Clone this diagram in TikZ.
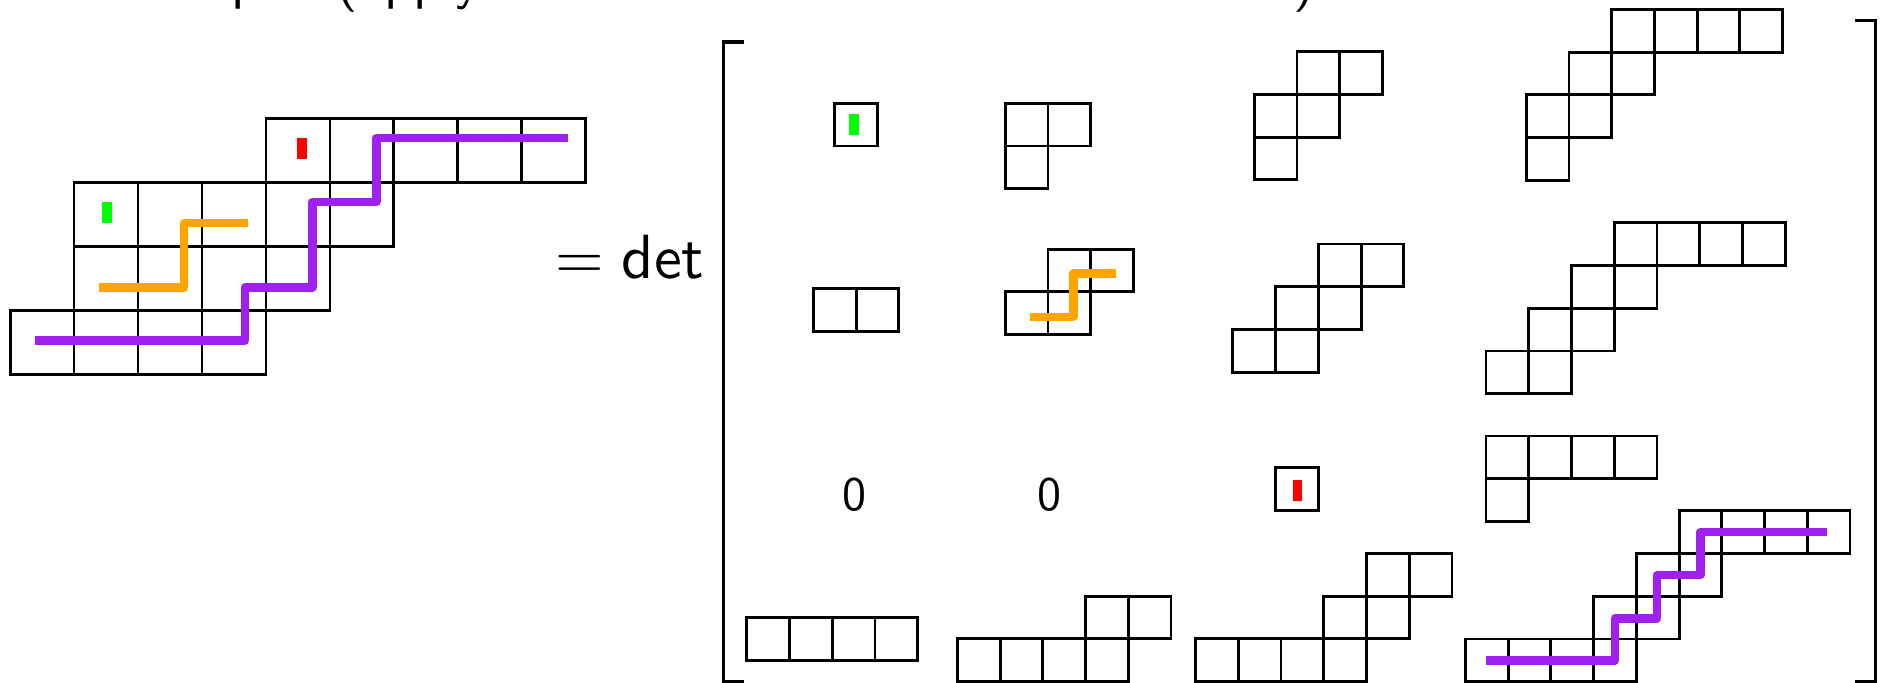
\documentclass[tikz,border=0pt]{standalone}
\usepackage{fontspec}
\newfontfamily\lmsten{lmsans10-regular.otf}
\definecolor{pathorange}{HTML}{FFA500}
\definecolor{pathpurple}{HTML}{A020F0}
\definecolor{markgreen}{HTML}{00FF00}
\definecolor{markred}{HTML}{FF0000}
\tikzset{
  cellbox/.style={draw=black, line width=2.4pt},
  bracketline/.style={draw=black, line width=2.6pt},
  lattpath/.style={line width=7pt, line join=round, line cap=butt},
  bigtext/.style={inner sep=0pt, font=\fontsize{52}{62}\selectfont\lmsten},
  zerotext/.style={inner sep=0pt, font=\fontsize{40}{48}\selectfont\lmsten},
}
% #1 x0, #2 y0, #3 cell size, #4 row index, #5 list of columns
\newcommand{\cellrow}[5]{\foreach \cc in {#5} {\draw[cellbox] ({#1+\cc*#3},{#2+#4*#3}) rectangle ++(#3,#3);}}
% #1 colour, #2 x centre, #3 y centre
\newcommand{\markbar}[3]{\fill[#1] ({#2-4},{#3-8.75}) rectangle ({#2+4},{#3+8.75});}
\begin{document}
\begin{tikzpicture}[x=1pt,y=-1pt]
\useasboundingbox (0,0) rectangle (1568,569);
\clip (0,0) rectangle (1568,569);
\fill[white] (0,0) rectangle (1568,569);

% clipped title
\node[anchor=base west, inner sep=0pt, font=\fontsize{46}{55}\selectfont\lmsten] (title) at (85,-1.2)
  {Examples (apply Lindström–Gessel–Viennot Lemma)};

% ---------- left skew shape ----------
\def\LX{8.4}\def\LY{98.6}\def\LC{53.3}
\cellrow{\LX}{\LY}{\LC}{0}{4,5,6,7,8}
\cellrow{\LX}{\LY}{\LC}{1}{1,2,3,4,5}
\cellrow{\LX}{\LY}{\LC}{2}{1,2,3,4}
\cellrow{\LX}{\LY}{\LC}{3}{0,1,2,3}
\markbar{markgreen}{89}{177}
\markbar{markred}{251.5}{124}
\draw[lattpath, pathorange] (82.6,239.5) -- (153.5,239.5) -- (153.5,186) -- (207,186);
\draw[lattpath, pathpurple] (29,283.6) -- (204.2,283.6) -- (204.2,239.5) -- (260.4,239.5)
  -- (260.4,168.3) -- (313.6,168.3) -- (313.6,115) -- (473.6,115);

% = det
\node[bigtext, anchor=base west] (eq) at (463,232) {=\hspace{0.28em}det};

% brackets
\draw[bracketline] (620,35) -- (603,35) -- (603,567.5) -- (620,567.5);
\draw[bracketline] (1545.5,17) -- (1562.5,17) -- (1562.5,567.5) -- (1545.5,567.5);

% ---------- matrix entries ----------
\def\MC{35.6}
% (1,1)
\cellrow{695.6}{86}{\MC}{0}{0}
\markbar{markgreen}{711.7}{103.8}
% (1,2)
\cellrow{837.5}{86}{\MC}{0}{0,1}
\cellrow{837.5}{86}{\MC}{1}{0}
% (1,3)
\cellrow{1045}{43}{\MC}{0}{1,2}
\cellrow{1045}{43}{\MC}{1}{0,1}
\cellrow{1045}{43}{\MC}{2}{0}
% (1,4)
\cellrow{1271.6}{7.8}{\MC}{0}{2,3,4,5}
\cellrow{1271.6}{7.8}{\MC}{1}{1,2}
\cellrow{1271.6}{7.8}{\MC}{2}{0,1}
\cellrow{1271.6}{7.8}{\MC}{3}{0}
% (2,1)
\cellrow{677.7}{240.7}{\MC}{0}{0,1}
% (2,2)
\cellrow{837.5}{207.6}{\MC}{0}{1,2}
\cellrow{837.5}{207.6}{\MC}{1}{0,1}
\draw[lattpath, pathorange] (858.2,263.9) -- (894.3,263.9) -- (894.3,228) -- (929.7,228);
% (2,3)
\cellrow{1027.2}{203.3}{\MC}{0}{2,3}
\cellrow{1027.2}{203.3}{\MC}{1}{1,2}
\cellrow{1027.2}{203.3}{\MC}{2}{0,1}
% (2,4)
\cellrow{1238.1}{185.6}{\MC}{0}{3,4,5,6}
\cellrow{1238.1}{185.6}{\MC}{1}{2,3}
\cellrow{1238.1}{185.6}{\MC}{2}{1,2}
\cellrow{1238.1}{185.6}{\MC}{3}{0,1}
% (3,1), (3,2)
\node[zerotext] (z31) at (711.7,412) {0};
\node[zerotext] (z32) at (874.7,412) {0};
% (3,3)
\cellrow{1062.6}{389.7}{\MC}{0}{0}
\markbar{markred}{1080.9}{408.3}
% (3,4)
\cellrow{1238.1}{363.3}{\MC}{0}{0,1,2,3}
\cellrow{1238.1}{363.3}{\MC}{1}{0}
% (4,1)
\cellrow{622.2}{514.4}{\MC}{0}{0,1,2,3}
% (4,2)
\cellrow{797.6}{496.7}{\MC}{0}{3,4}
\cellrow{797.6}{496.7}{\MC}{1}{0,1,2,3}
% (4,3)
\cellrow{996.1}{461.1}{\MC}{0}{4,5}
\cellrow{996.1}{461.1}{\MC}{1}{3,4}
\cellrow{996.1}{461.1}{\MC}{2}{0,1,2,3}
% (4,4)
\cellrow{1220.9}{425.6}{\MC}{0}{5,6,7,8}
\cellrow{1220.9}{425.6}{\MC}{1}{4,5}
\cellrow{1220.9}{425.6}{\MC}{2}{3,4}
\cellrow{1220.9}{425.6}{\MC}{3}{0,1,2,3}
\draw[lattpath, pathpurple] (1238.4,550.3) -- (1345.4,550.3) -- (1345.4,515.3) -- (1380.4,515.3)
  -- (1380.4,479.2) -- (1416.7,479.2) -- (1416.7,443.3) -- (1522.4,443.3);
\end{tikzpicture}
\end{document}
